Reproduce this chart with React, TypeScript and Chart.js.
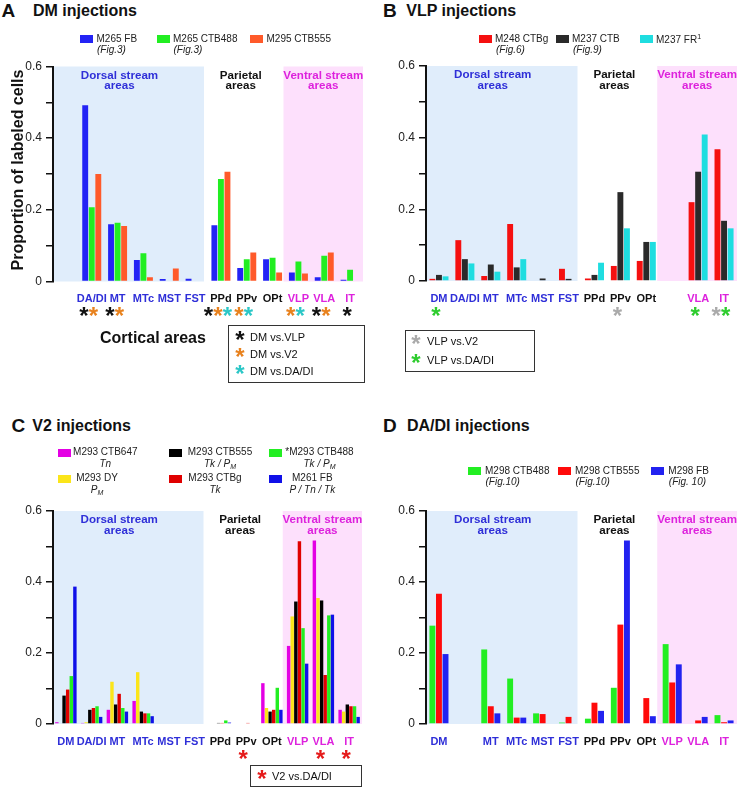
import React, { useEffect, useRef } from 'react';
import { Chart, registerables } from 'chart.js';

Chart.register(...registerables);

const FONT = '"Liberation Sans", Arial, Helvetica, sans-serif';

// ---------- categories ----------
const AREAS = ['DM', 'DA/DI', 'MT', 'MTc', 'MST', 'FST', 'PPd', 'PPv', 'OPt', 'VLP', 'VLA', 'IT'];
const AREA_STREAM = ['d', 'd', 'd', 'd', 'd', 'd', 'p', 'p', 'p', 'v', 'v', 'v'];

// ---------- Panel A: DM injections ----------
const A_M265_FB = [0, 0.492, 0.160, 0.060, 0.007, 0.008, 0.157, 0.038, 0.062, 0.025, 0.012, 0.005];
const A_M265_CTB488 = [0, 0.207, 0.164, 0.079, 0, 0, 0.286, 0.062, 0.066, 0.056, 0.072, 0.033];
const A_M295_CTB555 = [0, 0.300, 0.155, 0.012, 0.036, 0, 0.306, 0.081, 0.025, 0.022, 0.081, 0];
const A_STARS = [[], ['vlp', 'v2'], ['vlp', 'v2'], [], [], [], ['vlp', 'v2', 'dadi'], ['v2', 'dadi'], [], ['v2', 'dadi'], ['vlp', 'v2'], ['vlp']];

// ---------- Panel B: VLP injections ----------
const B_M248_CTBG = [0.006, 0.114, 0.014, 0.159, 0, 0.034, 0.007, 0.042, 0.056, 0, 0.220, 0.368];
const B_M237_CTB = [0.017, 0.061, 0.046, 0.038, 0.007, 0.006, 0.017, 0.248, 0.109, 0, 0.305, 0.168];
const B_M237_FR1 = [0.013, 0.049, 0.026, 0.061, 0, 0, 0.051, 0.147, 0.109, 0, 0.409, 0.147];
const B_STARS = [['vdadi'], [], [], [], [], [], [], ['vv2'], [], [], ['vdadi'], ['vv2', 'vdadi']];

// ---------- Panel C: V2 injections ----------
const C_M293_CTB647 = [0.005, 0.003, 0.040, 0.065, 0, 0, 0, 0, 0.115, 0.220, 0.517, 0.040];
const C_M293_DY = [0, 0.005, 0.119, 0.146, 0, 0, 0, 0, 0.045, 0.303, 0.355, 0.035];
const C_M293_CTB555 = [0.080, 0.040, 0.055, 0.035, 0, 0, 0.003, 0, 0.035, 0.345, 0.348, 0.055];
const C_M293_CTBG = [0.097, 0.045, 0.085, 0.030, 0, 0, 0.003, 0.003, 0.040, 0.515, 0.138, 0.050];
const C_M293_CTB488 = [0.135, 0.050, 0.045, 0.030, 0, 0, 0.010, 0, 0.102, 0.270, 0.306, 0.050];
const C_M261_FB = [0.387, 0.020, 0.035, 0.022, 0, 0, 0.004, 0, 0.040, 0.170, 0.308, 0.020];
const C_STARS = [[], [], [], [], [], [], [], ['v2dadi'], [], [], ['v2dadi'], ['v2dadi']];

// ---------- Panel D: DA/DI injections ----------
const D_M298_CTB488 = [0.277, 0, 0.210, 0.128, 0.030, 0.004, 0.015, 0.102, 0, 0.225, 0, 0.025];
const D_M298_CTB555 = [0.367, 0, 0.050, 0.018, 0.028, 0.020, 0.060, 0.280, 0.073, 0.117, 0.010, 0.005];
const D_M298_FB = [0.197, 0, 0.030, 0.018, 0, 0, 0.037, 0.517, 0.022, 0.168, 0.020, 0.010];

// ---------- styles ----------
const STREAM_COLOR: Record<string, string> = { d: '#2f2fd8', p: '#111111', v: '#dd22dd' };
const DORSAL_BG = '#e0edfb';
const VENTRAL_BG = '#fde0fc';
const STAR_COLOR: Record<string, string> = {
  vlp: '#111111', v2: '#e8821e', dadi: '#2cc7c7',
  vv2: '#aaaaaa', vdadi: '#2ecc2e', v2dadi: '#e51a1a',
};
const STAR_SIZE = 24;
const STAR_RISE = 0.47;

type DS = { label: string; data: number[]; color: string };
type PanelCfg = {
  left: number; top: number; width: number; height: number;
  plotLeft: number; plotTop: number; plotRight: number; plotBottom: number;
  datasets: DS[]; hidden: number; stars: string[][]; starY: number;
  catPct: number; barPct: number;
};

const PANEL_A: PanelCfg = {
  left: 0, top: 40, width: 373, height: 300,
  plotLeft: 53, plotTop: 66.5, plotRight: 363, plotBottom: 281.5,
  datasets: [
    { label: 'M265 FB', data: A_M265_FB, color: '#2323f5' },
    { label: 'M265 CTB488', data: A_M265_CTB488, color: '#22ee22' },
    { label: 'M295 CTB555', data: A_M295_CTB555, color: '#ff5a2a' },
  ],
  hidden: 0, stars: A_STARS, starY: 313, catPct: 0.76, barPct: 0.9,
};
const PANEL_B: PanelCfg = {
  left: 373, top: 40, width: 373, height: 300,
  plotLeft: 426, plotTop: 66, plotRight: 737, plotBottom: 281,
  datasets: [
    { label: 'M248 CTBg', data: B_M248_CTBG, color: '#f51010' },
    { label: 'M237 CTB', data: B_M237_CTB, color: '#2a2a2a' },
    { label: 'M237 FR1', data: B_M237_FR1, color: '#1fdde0' },
  ],
  hidden: 9, stars: B_STARS, starY: 313, catPct: 0.76, barPct: 0.9,
};
const PANEL_C: PanelCfg = {
  left: 0, top: 490, width: 373, height: 280,
  plotLeft: 53, plotTop: 511, plotRight: 362, plotBottom: 724,
  datasets: [
    { label: 'M293 CTB647', data: C_M293_CTB647, color: '#e400e4' },
    { label: 'M293 DY', data: C_M293_DY, color: '#fbe51a' },
    { label: 'M293 CTB555', data: C_M293_CTB555, color: '#000000' },
    { label: 'M293 CTBg', data: C_M293_CTBG, color: '#e00000' },
    { label: '*M293 CTB488', data: C_M293_CTB488, color: '#22ee22' },
    { label: 'M261 FB', data: C_M261_FB, color: '#1010e8' },
  ],
  hidden: -1, stars: C_STARS, starY: 756, catPct: 0.84, barPct: 0.95,
};
const PANEL_D: PanelCfg = {
  left: 373, top: 490, width: 373, height: 280,
  plotLeft: 426, plotTop: 511, plotRight: 737, plotBottom: 724,
  datasets: [
    { label: 'M298 CTB488', data: D_M298_CTB488, color: '#22ee22' },
    { label: 'M298 CTB555', data: D_M298_CTB555, color: '#ff0a0a' },
    { label: 'M298 FB', data: D_M298_FB, color: '#2222f0' },
  ],
  hidden: 1, stars: [], starY: 0, catPct: 0.76, barPct: 0.9,
};

function BarPanel({ cfg }: { cfg: PanelCfg }) {
  const ref = useRef<HTMLCanvasElement>(null);
  useEffect(() => {
    const c = cfg;
    const yW = c.plotLeft - c.left;
    const xH = 30;
    const padTop = c.plotTop - c.top;
    const padBottom = c.top + c.height - c.plotBottom - xH;
    const padRight = c.left + c.width - c.plotRight;
    const starLocalY = c.starY - c.top;

    const sectionPlugin = {
      id: 'sections',
      beforeDraw(chart: any) {
        const { ctx, chartArea: a } = chart;
        const x = chart.scales.x;
        const b1 = (x.getPixelForValue(5) + x.getPixelForValue(6)) / 2 - 4;
        const b2 = (x.getPixelForValue(8) + x.getPixelForValue(9)) / 2 - 2;
        ctx.save();
        ctx.fillStyle = DORSAL_BG;
        ctx.fillRect(a.left + 1, a.top, b1 - a.left - 1, a.bottom - a.top);
        ctx.fillStyle = VENTRAL_BG;
        ctx.fillRect(b2, a.top, a.right - b2, a.bottom - a.top);
        ctx.font = `bold 11.6px ${FONT}`;
        ctx.textAlign = 'center';
        ctx.textBaseline = 'alphabetic';
        const l1 = a.top + 12;
        const l2 = a.top + 22.5;
        const dx = (a.left + b1) / 2 - 9;
        const px = (b1 + b2) / 2 - 3;
        const vx = (b2 + a.right) / 2;
        ctx.fillStyle = STREAM_COLOR.d;
        ctx.fillText('Dorsal stream', dx, l1);
        ctx.fillText('areas', dx, l2);
        ctx.fillStyle = STREAM_COLOR.p;
        ctx.fillText('Parietal', px, l1);
        ctx.fillText('areas', px, l2);
        ctx.fillStyle = STREAM_COLOR.v;
        ctx.fillText('Ventral stream', vx, l1);
        ctx.fillText('areas', vx, l2);
        ctx.restore();
      },
      afterDraw(chart: any) {
        const { ctx } = chart;
        const x = chart.scales.x;
        ctx.save();
        ctx.font = `bold ${STAR_SIZE}px ${FONT}`;
        ctx.textAlign = 'center';
        ctx.textBaseline = 'alphabetic';
        c.stars.forEach((list, i) => {
          const cx = x.getPixelForValue(i) - 3;
          const n = list.length;
          list.forEach((k, j) => {
            ctx.fillStyle = STAR_COLOR[k];
            ctx.fillText('*', cx + (j - (n - 1) / 2) * 9.5, starLocalY + STAR_RISE * STAR_SIZE);
          });
        });
        ctx.restore();
      },
    };

    const chart = new Chart(ref.current as HTMLCanvasElement, {
      type: 'bar',
      data: {
        labels: AREAS,
        datasets: c.datasets.map((d) => ({
          label: d.label,
          data: d.data,
          backgroundColor: d.color,
          borderWidth: 0,
          categoryPercentage: c.catPct,
          barPercentage: c.barPct,
        })),
      },
      options: {
        responsive: false,
        maintainAspectRatio: false,
        animation: false,
        devicePixelRatio: 1,
        layout: { padding: { left: 0, right: padRight, top: padTop, bottom: padBottom } },
        plugins: { legend: { display: false }, tooltip: { enabled: false } },
        scales: {
          x: {
            type: 'category',
            grid: { display: false, drawTicks: false },
            border: { display: false },
            ticks: {
              autoSkip: false,
              maxRotation: 0,
              padding: 11,
              font: { family: FONT, size: 11, weight: 'bold' },
              color: (ctx: any) => STREAM_COLOR[AREA_STREAM[ctx.index]] || '#111',
              callback: (_v: any, i: number) => (i === c.hidden ? '' : AREAS[i]),
            },
            afterFit: (s: any) => { s.height = xH; },
          },
          y: {
            min: 0,
            max: 0.6,
            ticks: {
              stepSize: 0.1,
              padding: 4,
              font: { family: FONT, size: 12 },
              color: '#222',
              callback: (v: any) => {
                const k = Math.round(Number(v) * 10);
                if (k % 2 !== 0) return '';
                return k === 0 ? '0' : (k / 10).toFixed(1);
              },
            },
            grid: { display: true, drawOnChartArea: false, drawTicks: true, tickLength: 7, color: '#111', lineWidth: 1.5 },
            border: { display: true, color: '#111', width: 2 },
            afterFit: (s: any) => { s.width = yW; },
          },
        },
      } as any,
      plugins: [sectionPlugin],
    });
    return () => chart.destroy();
  }, [cfg]);
  return (
    <canvas
      ref={ref}
      width={cfg.width}
      height={cfg.height}
      style={{ position: 'absolute', left: cfg.left, top: cfg.top, width: cfg.width, height: cfg.height }}
    />
  );
}

function Txt(props: {
  x: number; y: number; size: number; bold?: boolean; italic?: boolean; color?: string;
  align?: 'left' | 'center'; children: React.ReactNode;
}) {
  const { x, y, size, bold, italic, color, align = 'left', children } = props;
  const style: React.CSSProperties = {
    position: 'absolute',
    top: y - 0.8465 * size,
    fontFamily: FONT,
    fontSize: size,
    lineHeight: `${size}px`,
    fontWeight: bold ? 700 : 400,
    fontStyle: italic ? 'italic' : 'normal',
    color: color || '#111',
    whiteSpace: 'nowrap',
  };
  if (align === 'center') {
    style.left = x - 150;
    style.width = 300;
    style.textAlign = 'center';
  } else {
    style.left = x;
  }
  return <div style={style}>{children}</div>;
}

function Swatch({ x, y, color }: { x: number; y: number; color: string }) {
  return <div style={{ position: 'absolute', left: x, top: y, width: 13, height: 8, background: color }} />;
}

function Star({ cx, cy, color }: { cx: number; cy: number; color: string }) {
  const size = STAR_SIZE;
  return (
    <div style={{
      position: 'absolute', left: cx - 20, width: 40, textAlign: 'center', top: cy + STAR_RISE * size - 0.8465 * size,
      fontFamily: FONT, fontSize: size, lineHeight: `${size}px`, fontWeight: 700, color,
    }}>*</div>
  );
}

const Sub = ({ children }: { children: React.ReactNode }) => (
  <span style={{ fontSize: 7, position: 'relative', top: 2 }}>{children}</span>
);

function Box({ x, y, w, h }: { x: number; y: number; w: number; h: number }) {
  return <div style={{ position: 'absolute', left: x, top: y, width: w - 2, height: h - 2, border: '1px solid #333' }} />;
}

export default function App() {
  const legendA = [80, 156.5, 250];
  const legendB = [479, 556, 640];
  const legendD = [468, 558, 651.3];
  const figA = ['(Fig.3)', '(Fig.3)', ''];
  const figB = ['(Fig.6)', '(Fig.9)', ''];
  const figD = ['(Fig.10)', '(Fig.10)', '(Fig. 10)'];
  const cCols = [57.5, 168.5, 268.5];
  const cTextX = [105.3, 220, 319.5, 97, 215, 312.3];
  const cSubs: React.ReactNode[] = [
    'Tn',
    <>Tk / P<Sub>M</Sub></>,
    <>Tk / P<Sub>M</Sub></>,
    <>P<Sub>M</Sub></>,
    'Tk',
    'P / Tn / Tk',
  ];

  return (
    <div style={{ position: 'absolute', left: 0, top: 0, width: 746, height: 789, background: '#fff', overflow: 'hidden' }}>
      <BarPanel cfg={PANEL_A} />
      <BarPanel cfg={PANEL_B} />
      <BarPanel cfg={PANEL_C} />
      <BarPanel cfg={PANEL_D} />

      {/* Titles */}
      <Txt x={1.5} y={17} size={19} bold>A</Txt>
      <Txt x={33} y={17} size={16} bold>DM injections</Txt>
      <Txt x={383} y={17} size={19} bold>B</Txt>
      <Txt x={406.3} y={17} size={16} bold>VLP injections</Txt>
      <Txt x={11.5} y={432.5} size={19} bold>C</Txt>
      <Txt x={32.3} y={432} size={16} bold>V2 injections</Txt>
      <Txt x={383} y={432.5} size={19} bold>D</Txt>
      <Txt x={407} y={432} size={16} bold>DA/DI injections</Txt>

      {/* Legend A */}
      {PANEL_A.datasets.map((d, i) => (
        <React.Fragment key={'la' + i}>
          <Swatch x={legendA[i]} y={34.5} color={d.color} />
          <Txt x={legendA[i] + 16.5} y={42} size={10} color="#222">{d.label}</Txt>
          {figA[i] && <Txt x={legendA[i] + 17} y={53.5} size={10} italic color="#222">{figA[i]}</Txt>}
        </React.Fragment>
      ))}

      {/* Legend B */}
      {PANEL_B.datasets.map((d, i) => (
        <React.Fragment key={'lb' + i}>
          <Swatch x={legendB[i]} y={35} color={d.color} />
          <Txt x={legendB[i] + 16} y={i === 2 ? 43 : 42} size={10} color="#222">
            {i === 2 ? <>M237 FR<span style={{ fontSize: 7, position: 'relative', top: -4 }}>1</span></> : d.label}
          </Txt>
          {figB[i] && <Txt x={legendB[i] + 17} y={53.5} size={10} italic color="#222">{figB[i]}</Txt>}
        </React.Fragment>
      ))}

      {/* Legend C */}
      {PANEL_C.datasets.map((d, i) => {
        const order = [0, 3, 1, 4, 2, 5];
        const slot = order[i];
        const col = slot % 3;
        const row = Math.floor(slot / 3);
        const base = row === 0 ? 455.5 : 481.5;
        return (
          <React.Fragment key={'lc' + i}>
            <Swatch x={cCols[col]} y={row === 0 ? 448.5 : 474.5} color={d.color} />
            <Txt x={cTextX[slot]} y={base} size={10} align="center" color="#222">{d.label}</Txt>
            <Txt x={cTextX[slot]} y={base + 11.5} size={10} align="center" italic color="#222">{cSubs[slot]}</Txt>
          </React.Fragment>
        );
      })}

      {/* Legend D */}
      {PANEL_D.datasets.map((d, i) => (
        <React.Fragment key={'ld' + i}>
          <Swatch x={legendD[i]} y={467.3} color={d.color} />
          <Txt x={legendD[i] + 17} y={474.5} size={10} color="#222">{d.label}</Txt>
          <Txt x={legendD[i] + 17.5} y={485.5} size={10} italic color="#222">{figD[i]}</Txt>
        </React.Fragment>
      ))}

      {/* Axis titles (panel A) */}
      <div style={{
        position: 'absolute', left: 18 - 130, top: 170 - 8, width: 260, height: 16, lineHeight: '16px',
        textAlign: 'center', transform: 'rotate(-90deg)', fontFamily: FONT, fontWeight: 700, fontSize: 16, color: '#111', whiteSpace: 'nowrap',
      }}>Proportion of labeled cells</div>
      <Txt x={100} y={344} size={16} bold>Cortical areas</Txt>

      {/* Star legend A */}
      <Box x={228} y={325} w={137} h={58} />
      <Star cx={240} cy={337} color={STAR_COLOR.vlp} />
      <Txt x={250} y={341} size={11} color="#111">DM vs.VLP</Txt>
      <Star cx={240} cy={354} color={STAR_COLOR.v2} />
      <Txt x={250} y={358} size={11} color="#111">DM vs.V2</Txt>
      <Star cx={240} cy={371} color={STAR_COLOR.dadi} />
      <Txt x={250} y={375} size={11} color="#111">DM vs.DA/DI</Txt>

      {/* Star legend B */}
      <Box x={405} y={330} w={130} h={42} />
      <Star cx={416} cy={341} color={STAR_COLOR.vv2} />
      <Txt x={427} y={345} size={11} color="#111">VLP vs.V2</Txt>
      <Star cx={416} cy={360} color={STAR_COLOR.vdadi} />
      <Txt x={427} y={364} size={11} color="#111">VLP vs.DA/DI</Txt>

      {/* Star legend C */}
      <Box x={250} y={765} w={112} h={22} />
      <Star cx={262} cy={776} color={STAR_COLOR.v2dadi} />
      <Txt x={272} y={780} size={11} color="#111">V2 vs.DA/DI</Txt>
    </div>
  );
}
